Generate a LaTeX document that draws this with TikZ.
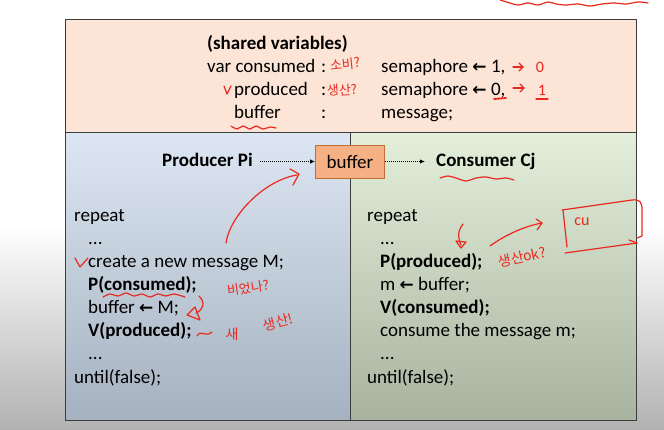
\documentclass[tikz,border=0pt]{standalone}
\usepackage{fontspec}
\setmainfont{Carlito}
\newfontfamily\arrowfont{DejaVu Sans}
\newfontfamily\krfont{Noto Sans CJK KR}
\usetikzlibrary{arrows.meta}
\definecolor{frame}{RGB}{60,60,60}
\definecolor{peach}{RGB}{252,228,214}
\definecolor{bluetop}{RGB}{221,231,243}
\definecolor{bluemid}{RGB}{203,214,227}
\definecolor{bluebot}{RGB}{165,177,191}
\definecolor{greentop}{RGB}{227,239,219}
\definecolor{greenmid}{RGB}{208,221,200}
\definecolor{greenbot}{RGB}{168,180,160}
\definecolor{buforange}{RGB}{245,177,131}
\definecolor{bufborder}{RGB}{197,110,50}
\definecolor{ink}{RGB}{235,40,30}
\definecolor{bggrey}{RGB}{178,178,178}
\newcommand{\larr}{{\arrowfont\bfseries\fontsize{17}{17}\selectfont ←}}
\begin{document}
\begin{tikzpicture}[x=1pt,y=-1pt,
  txt/.style={anchor=base west, inner sep=0pt, font=\fontsize{19}{23}\selectfont},
  btxt/.style={anchor=base west, inner sep=0pt, font=\fontsize{19}{23}\selectfont\bfseries},
  ink/.style={draw=ink, line width=1.2pt, line cap=round, line join=round},
  hand/.style={text=ink, inner sep=0pt, font=\krfont\fontsize{13}{13}\selectfont},
  darr/.style={densely dotted, line width=1pt, -{Latex[length=5pt,width=4.5pt]}},
  panel/.style={draw=frame, line width=1pt}]
\useasboundingbox (0,0) rectangle (664,429);
% background
\fill[white] (0,0) rectangle (664,429);
\shade[top color=white, bottom color=bggrey] (0,225) rectangle (664,429);
% panels
\filldraw[panel, fill=peach] (65,19) rectangle (636,132);
\shade[top color=bluetop, middle color=bluemid, bottom color=bluebot] (65,132) rectangle (350,420);
\shade[top color=greentop, middle color=greenmid, bottom color=greenbot] (350,132) rectangle (636,420);
\draw[panel] (65,132) rectangle (350,420);
\draw[panel] (350,132) rectangle (636,420);
% shared variables
\node[btxt] (sv) at (207,49) {(shared variables)};
\node[txt] (vc) at (207,72) {var consumed};
\node[txt] (c1) at (321,72) {:};
\node[txt] (s1) at (381,72) {semaphore \larr\ 1,};
\node[txt] (vp) at (234,95) {produced};
\node[txt] (c2) at (321,95) {:};
\node[txt] (s2) at (381,95) {semaphore \larr\ 0,};
\node[txt] (vb) at (234,118) {buffer};
\node[txt] (c3) at (321,118) {:};
\node[txt] (s3) at (381,118) {message;};
% producer / buffer / consumer
\node[btxt] (prod) at (162,166) {Producer Pi};
\node[draw=bufborder, line width=0.8pt, fill=buforange, minimum width=69pt, minimum height=33pt, inner sep=0pt, font=\fontsize{19}{23}\selectfont] (buf) at (350,161.5) {buffer};
\node[btxt] (cons) at (436,166) {Consumer Cj};
\draw[darr] ([xshift=7pt]buf.west -| prod.east) -- (buf.west);
\draw[darr] (buf.east) -- ([xshift=-11pt]buf.east -| cons.west);
% producer code
\node[txt] (l1) at (74,221) {repeat};
\node[txt] (l2) at (88,244) {...};
\node[txt] (l3) at (88,267) {create a new message M;};
\node[btxt] (l4) at (88,290) {P(consumed);};
\node[txt] (l5) at (88,313) {buffer \larr\ M;};
\node[btxt] (l6) at (88,336) {V(produced);};
\node[txt] (l7) at (88,359) {...};
\node[txt] (l8) at (74,383) {until(false);};
% consumer code
\node[txt] (r1) at (367,221) {repeat};
\node[txt] (r2) at (380,244) {...};
\node[btxt] (r3) at (380,267) {P(produced);};
\node[txt] (r4) at (380,290) {m \larr\ buffer;};
\node[btxt] (r5) at (380,313) {V(consumed);};
\node[txt] (r6) at (380,336) {consume the message m;};
\node[txt] (r7) at (380,359) {...};
\node[txt] (r8) at (367,383) {until(false);};
% ---- red handwritten annotations ----
\draw[ink] plot[smooth] coordinates {(500,0) (510,3) (518,5) (528,3) (538,5) (548,2) (556,4) (566,5) (578,4) (590,6) (602,4) (614,3) (626,4) (638,2) (648,3)};
\node[hand, rotate=6] (h1) at (345,64) {소비?};
\node[hand, rotate=4] (h2) at (342,90) {생산?};
\draw[ink] (224,86) -- (227,94) -- (231,86);
\draw[ink] (513,67) -- (523,67);
\draw[ink] (519,63) -- (523,67) -- (519,71);
\node[text=ink, inner sep=0pt, font=\fontsize{16}{16}\selectfont] (h3) at (540,67) {0};
\draw[ink] (513,88) -- (524,88);
\draw[ink] (520,84) -- (524,88) -- (520,92);
\node[text=ink, inner sep=0pt, font=\fontsize{16}{16}\selectfont] (h4) at (542,90) {1};
\draw[ink] (536,99) -- (548,99);
\draw[ink, line width=1.8pt] (494,99) -- (506,98);
\draw[ink] plot[smooth] coordinates {(231,126) (237,129) (243,126) (250,129) (256,126) (263,129) (270,127) (276,128)};
\draw[ink] plot[smooth] coordinates {(440,178) (448,176) (456,178) (466,181) (476,178) (486,177) (496,179) (506,178) (514,180)};
\draw[ink] (226,243) .. controls (230,215) and (265,180) .. (297,175);
\draw[ink] (290,169) -- (299,174) -- (293,185);
\draw[ink] (75,258) -- (80,267) -- (88,258);
\draw[ink] plot[smooth] coordinates {(103,297) (110,294) (118,296) (126,293) (134,296) (142,294) (150,297) (158,294) (166,296) (174,294) (185,297)};
\node[hand, rotate=8] (h5) at (248,288) {비었나?};
\draw[ink] (199,296) .. controls (206,303) and (203,310) .. (196,313);
\draw[ink] (187,315) -- (195,307) -- (200,320) -- cycle;
\draw[ink] (197,336) .. controls (201,329) and (205,338) .. (212,332);
\node[hand, font=\krfont\fontsize{14}{14}\selectfont] (h6) at (232,334) {새};
\node[hand, rotate=15, font=\krfont\fontsize{14}{14}\selectfont] (h7) at (278,322) {생산!};
\draw[ink] (463,224) .. controls (457,232) and (458,238) .. (461,245);
\draw[ink] (456,241) -- (461,248) -- (466,242) -- cycle;
\node[hand, rotate=12, font=\krfont\fontsize{14}{14}\selectfont] (h8) at (522,257) {생산ok?};
\draw[ink] (490,246) .. controls (505,235) and (525,226) .. (542,223);
\draw[ink] (536,219) -- (542,223) -- (537,230);
\draw[ink] (563,210) -- (567,247);
\draw[ink] (562,210) -- (632,200) .. controls (640,199) and (642,202) .. (642,210) -- (642,236) -- (637,238);
\draw[ink] (565,253) -- (637,243);
\draw[ink] (629,240) -- (637,243);
\node[text=ink, inner sep=0pt, font=\fontsize{16}{16}\selectfont] (h9) at (582,222) {cu};
\end{tikzpicture}
\end{document}
